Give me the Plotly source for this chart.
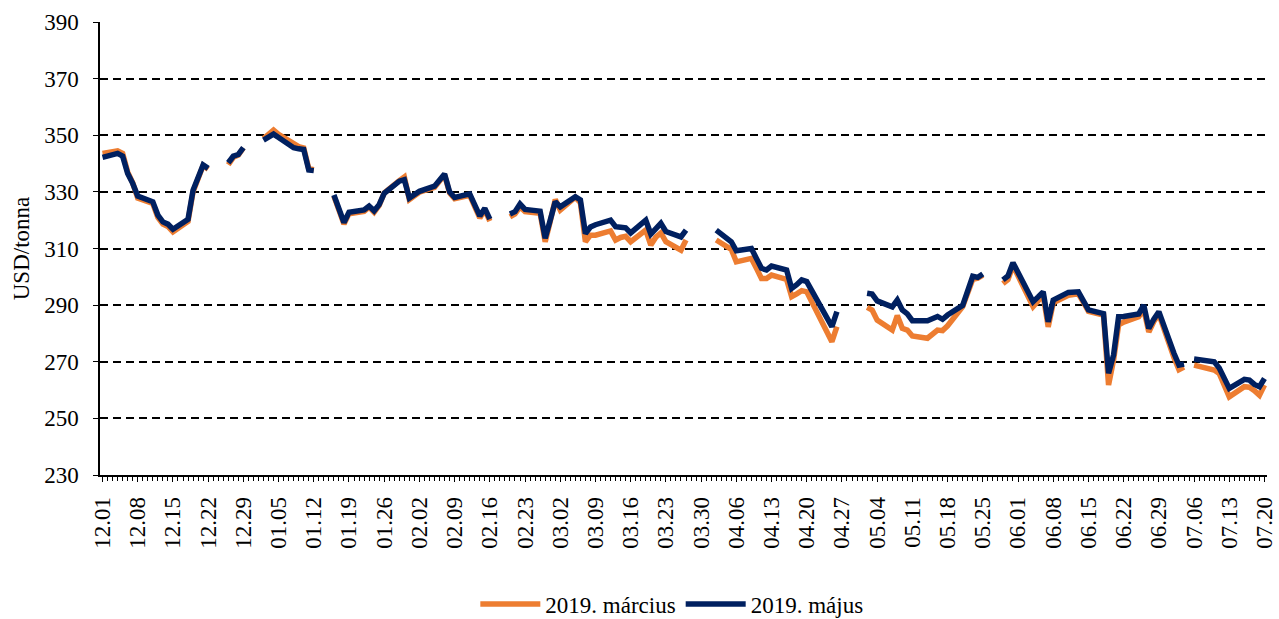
import pandas as pd
import plotly.graph_objects as go

# Trading days (weekdays) shown on the chart; None = no quotation (gap in line)
dates = pd.bdate_range("2017-12-01", "2018-07-20")

# 2019. május contract, USD/tonna, week by week (Mon..Fri)
majus_weeks = [
    [342.2],
    [343.6, 342.6, 336.5, 333.0, 328.5],
    [326.5, 321.8, 319.4, 318.6, 316.8],
    [320.3, 330.6, 335.3, 339.5, 338.3],
    [None, 340.3, 342.6, 343.2, 345.6],
    [None, 348.3, 349.5, 350.4, 349.2],
    [345.6, 345.2, 345.0, 337.7, 337.5],
    [None, 328.9, 323.8, 319.2, 322.8],
    [323.6, 325.0, 323.3, 325.5, 329.5],
    [333.8, 334.3, 327.8, 329.2, 330.2],
    [332.0, 334.5, 336.3, 330.0, 328.0],
    [329.3, 325.7, 321.5, 324.2, 320.4],
    [None, 322.2, 323.0, 325.7, 323.8],
    [323.2, 313.6, 320.0, 326.5, 324.7],
    [328.3, 327.2, 315.3, 317.6, 318.4],
    [320.0, 317.7, 317.5, 317.3, 315.5],
    [320.0, 315.1, 317.0, 318.9, 316.0],
    [314.1, 316.5, None, None, None],
    [316.5, 315.0, 313.6, 312.4, 309.2],
    [310.0, 306.5, 303.0, 302.4, 303.8],
    [302.4, 295.9, 297.2, 298.9, 298.3],
    [288.8, 285.6, 282.4, 287.7, None],
    [None, None, 294.2, 293.9, 291.5],
    [289.4, 291.8, 288.3, 286.9, 284.5],
    [284.5, 285.1, 286.0, 285.0, 286.5],
    [289.9, 295.3, 300.2, 299.8, 301.0],
    [None, 298.9, 300.3, 305.0, 301.4],
    [291.2, 292.9, 294.7, 284.1, 291.8],
    [294.5, 294.7, 294.7, 291.5, 288.3],
    [287.0, 265.9, 272.4, 285.9, 286.0],
    [286.9, 290.0, 281.8, 285.0, 287.7],
    [273.0, 268.8, 269.2, None, 271.0],
    [270.2, 270.0, 267.8, 264.6, 260.6],
    [263.8, 263.5, 262.0, 261.2, 264.1],
]

# 2019. március contract, USD/tonna, week by week (Mon..Fri)
marcius_weeks = [
    [343.6],
    [344.5, 343.6, 337.0, 333.2, 327.8],
    [325.9, 321.0, 318.6, 317.8, 315.9],
    [319.6, 330.0, 335.0, 339.3, 338.0],
    [None, 339.6, 342.2, 343.0, 345.5],
    [None, 348.8, 350.5, 351.8, 350.3],
    [346.8, 346.0, 345.5, 338.2, 337.8],
    [None, 328.5, 323.3, 318.6, 322.3],
    [323.1, 324.6, 322.8, 325.2, 329.6],
    [334.0, 335.3, 327.3, 328.9, 329.9],
    [331.6, 334.2, 336.0, 329.6, 327.6],
    [328.8, 325.2, 320.8, 323.6, 319.7],
    [None, 321.2, 322.2, 324.7, 323.0],
    [322.4, 312.4, 319.5, 327.3, 323.6],
    [328.1, 326.2, 312.4, 314.7, 314.7],
    [316.2, 313.0, 313.9, 314.3, 312.4],
    [316.5, 311.2, 314.0, 315.5, 312.4],
    [309.4, 313.0, None, None, None],
    [313.0, 311.8, 310.8, 309.7, 305.3],
    [306.5, 303.0, 299.4, 299.4, 300.6],
    [299.1, 293.0, 294.0, 295.1, 294.7],
    [284.3, 280.6, 277.1, 282.4, None],
    [None, None, 289.2, 288.3, 284.7],
    [281.2, 286.3, 281.8, 281.2, 279.1],
    [278.3, 280.0, 281.2, 281.0, 282.7],
    [289.5, 294.4, 299.1, 299.5, 300.6],
    [None, 297.6, 299.0, 304.0, 300.3],
    [289.5, 291.5, 293.5, 282.3, 290.8],
    [293.5, 294.0, 294.0, 291.0, 287.8],
    [286.5, 261.8, 270.6, 283.0, 284.0],
    [285.9, 288.5, 280.5, 284.2, 286.8],
    [271.5, 267.2, 268.1, None, 268.8],
    [267.8, 267.1, 265.9, 262.0, 257.6],
    [261.2, 261.0, 259.8, 258.2, 261.8],
]

majus = [v for w in majus_weeks for v in w]
marcius = [v for w in marcius_weeks for v in w]
assert len(majus) == len(dates) == len(marcius), (len(majus), len(marcius), len(dates))

series_names = ["2019. március", "2019. május"]
series_colors = ["#ED7D31", "#002060"]

FONT = "Liberation Serif"
FS = 23
DAY = 86400000

fig = go.Figure()
for name, vals, col in zip(series_names, [marcius, majus], series_colors):
    fig.add_trace(go.Scatter(
        x=dates, y=vals, name=name, mode="lines",
        line=dict(color=col, width=5.5),
        connectgaps=False,
    ))

fig.update_layout(
    width=1279, height=619,
    margin=dict(l=100, r=12, t=22, b=144, autoexpand=False),
    paper_bgcolor="white", plot_bgcolor="white",
    font=dict(family=FONT, size=FS, color="black"),
    showlegend=True,
    legend=dict(orientation="h", x=0.49, xanchor="center", y=-0.285, yanchor="middle",
                font=dict(family=FONT, size=FS, color="black"), itemwidth=60,
                traceorder="normal"),
)

fig.update_xaxes(
    type="date", automargin=False,
    range=["2017-11-30 12:00", "2018-07-20 12:00"],
    tick0="2017-12-01", dtick=7 * DAY, tickformat="%m.%d",
    tickangle=-90, ticks="outside", ticklen=5, tickcolor="black",
    minor=dict(dtick=DAY, ticks="outside", ticklen=4, tickcolor="black", showgrid=False),
    showline=True, linecolor="black", linewidth=1.5,
    showgrid=False, zeroline=False,
    tickfont=dict(family=FONT, size=FS, color="black"),
    ticklabelstandoff=6,
)

fig.update_yaxes(
    automargin=False,
    range=[230, 390], dtick=20, tick0=230,
    showgrid=True, gridcolor="black", gridwidth=1.5, griddash="8px,5px",
    showline=True, linecolor="black", linewidth=1.5,
    ticks="outside", ticklen=5, tickcolor="black",
    zeroline=False,
    tickfont=dict(family=FONT, size=FS, color="black"),
    ticklabelstandoff=10,
    title=dict(text="USD/tonna", font=dict(family=FONT, size=FS, color="black"), standoff=8),
)

fig.write_html(
    "out.html",
    config={"displayModeBar": False},
    post_script="document.body.style.margin='0';document.body.style.overflow='hidden';",
)
